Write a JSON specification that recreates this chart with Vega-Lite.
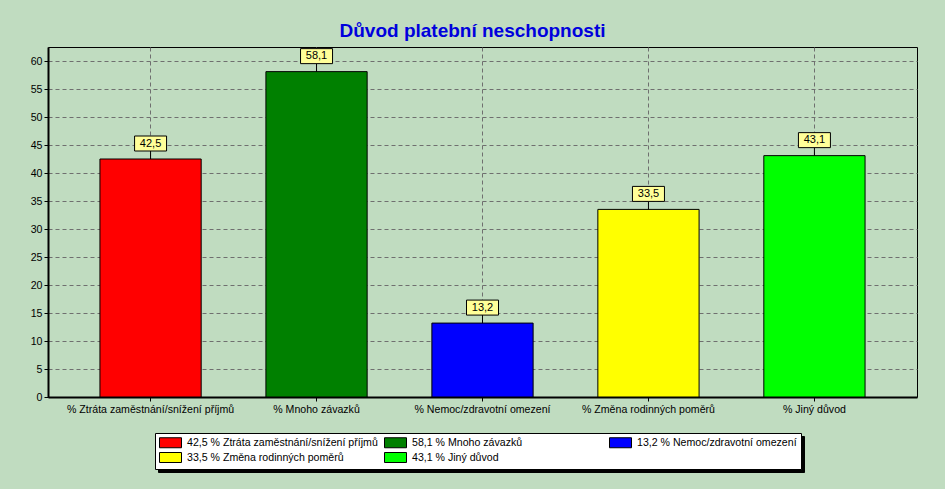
{
  "$schema": "https://vega.github.io/schema/vega-lite/v6.json",
  "width": 869,
  "height": 350,
  "autosize": {"type": "none"},
  "padding": {"left": 48, "top": 47, "right": 28, "bottom": 92},
  "background": "#c0dcc0",
  "title": {
    "text": "Důvod platební neschopnosti",
    "font": "Liberation Sans",
    "fontSize": 19,
    "fontWeight": "bold",
    "color": "#0000dd",
    "anchor": "middle",
    "frame": "group",
    "dx": -10,
    "baseline": "alphabetic",
    "offset": -9
  },
  "config": {
    "view": {"stroke": "black", "strokeWidth": 1, "fill": "#c0dcc0"},
    "font": "Liberation Sans",
    "axis": {
      "labelFont": "Liberation Sans",
      "labelFontSize": 10.6,
      "labelColor": "black",
      "domainColor": "black",
      "domainWidth": 2,
      "tickColor": "black",
      "tickSize": 4,
      "gridColor": "#6f6f6f",
      "gridDash": [4, 3],
      "gridWidth": 1,
      "title": null
    }
  },
  "data": {
    "values": [
      {"kategorie": "% Ztráta zaměstnání/snížení příjmů", "hodnota": 42.5, "popisek": "42,5", "legenda": "42,5 % Ztráta zaměstnání/snížení příjmů"},
      {"kategorie": "% Mnoho závazků", "hodnota": 58.1, "popisek": "58,1", "legenda": "58,1 % Mnoho závazků"},
      {"kategorie": "% Nemoc/zdravotní omezení", "hodnota": 13.2, "popisek": "13,2", "legenda": "13,2 % Nemoc/zdravotní omezení"},
      {"kategorie": "% Změna rodinných poměrů", "hodnota": 33.5, "popisek": "33,5", "legenda": "33,5 % Změna rodinných poměrů"},
      {"kategorie": "% Jiný důvod", "hodnota": 43.1, "popisek": "43,1", "legenda": "43,1 % Jiný důvod"}
    ]
  },
  "encoding": {
    "x": {
      "field": "kategorie",
      "type": "nominal",
      "sort": null,
      "scale": {"paddingInner": 0.39, "paddingOuter": 0.313},
      "axis": {"labelAngle": 0, "grid": true, "labelPadding": 3, "labelLimit": 300}
    },
    "y": {
      "field": "hodnota",
      "type": "quantitative",
      "scale": {"domain": [0, 62.5], "nice": false},
      "axis": {"values": [0, 5, 10, 15, 20, 25, 30, 35, 40, 45, 50, 55, 60], "grid": true, "labelPadding": 2, "labelOverlap": false}
    }
  },
  "layer": [
    {
      "mark": {"type": "bar", "stroke": "black", "strokeWidth": 1},
      "encoding": {
        "color": {
          "field": "legenda",
          "type": "nominal",
          "sort": null,
          "scale": {
            "domain": ["42,5 % Ztráta zaměstnání/snížení příjmů", "58,1 % Mnoho závazků", "13,2 % Nemoc/zdravotní omezení", "33,5 % Změna rodinných poměrů", "43,1 % Jiný důvod"],
            "range": ["#ff0000", "#008000", "#0000ff", "#ffff00", "#00ff00"]
          },
          "legend": {
            "title": null,
            "orient": "none",
            "legendX": 107,
            "legendY": 386,
            "zindex": 3,
            "columns": 3,
            "direction": "horizontal",
            "gridAlign": "all",
            "fillColor": "white",
            "strokeColor": "black",
            "padding": 4,
            "symbolType": "M-2.2,-1H2.2V1H-2.2Z",
            "symbolSize": 100,
            "symbolOffset": 6,
            "symbolStrokeColor": "black",
            "symbolStrokeWidth": 1,
            "symbolOpacity": 1,
            "labelOffset": 11,
            "labelFont": "Liberation Sans",
            "labelFontSize": 10.6,
            "labelColor": "black",
            "labelLimit": 300,
            "columnPadding": 4,
            "rowPadding": 0,
            "encode": {"legend": {"update": {"width": {"value": 686}}}}
          }
        }
      }
    },
    {
      "mark": {"type": "rule", "color": "black", "strokeWidth": 1, "y2Offset": -8},
      "encoding": {
        "y2": {"field": "hodnota"},
        "opacity": {
          "field": "kategorie",
          "type": "nominal",
          "sort": null,
          "scale": {"range": [1, 1, 1, 1, 1]},
          "legend": {
            "title": null,
            "orient": "none",
            "legendX": 110,
            "legendY": 389,
            "zindex": 1,
            "columns": 3,
            "direction": "horizontal",
            "gridAlign": "all",
            "fillColor": "black",
            "strokeColor": "black",
            "padding": 4,
            "symbolType": "M-2.2,-1H2.2V1H-2.2Z",
            "symbolSize": 100,
            "symbolOffset": 6,
            "symbolFillColor": "black",
            "symbolStrokeColor": "black",
            "symbolStrokeWidth": 1,
            "labelOffset": 11,
            "labelFont": "Liberation Sans",
            "labelFontSize": 10.6,
            "labelColor": "black",
            "labelLimit": 300,
            "labelExpr": "'00,0 ' + datum.label",
            "columnPadding": 4,
            "rowPadding": 0,
            "encode": {"legend": {"update": {"width": {"value": 686}}}}
          }
        }
      }
    },
    {
      "mark": {"type": "bar", "fill": "#ffff99", "stroke": "black", "strokeWidth": 1, "width": 32, "yOffset": -8, "y2Offset": -23},
      "encoding": {
        "y2": {"field": "hodnota"}
      }
    },
    {
      "mark": {"type": "text", "font": "Liberation Sans", "fontSize": 11, "color": "black", "baseline": "middle", "yOffset": -15.5},
      "encoding": {
        "text": {"field": "popisek"}
      }
    }
  ]
}
